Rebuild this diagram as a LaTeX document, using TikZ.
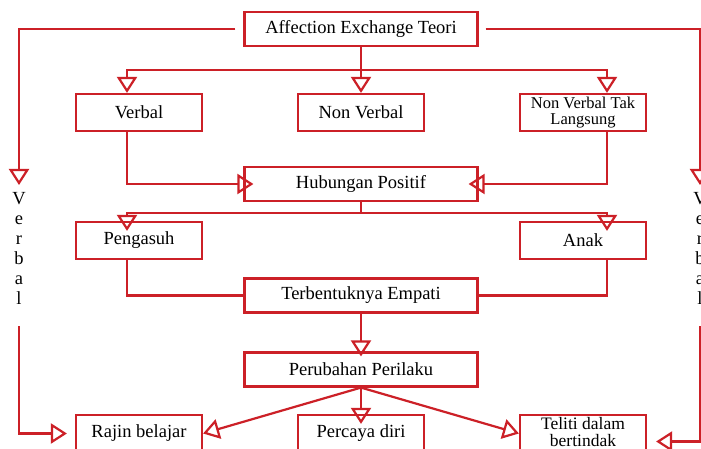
\documentclass[tikz,border=0pt]{standalone}
\usepackage{fontspec}
\setmainfont{Liberation Serif}
\usetikzlibrary{arrows.meta,calc}
\definecolor{lred}{RGB}{204,32,39}
\begin{document}
\begin{tikzpicture}[x=1pt,y=-1pt,
  box/.style={draw=lred,line width=2.2pt,fill=white,inner sep=1pt,align=center,font=\fontsize{18.5}{20}\selectfont,text=black},
  wbox/.style={box,minimum width=233pt,minimum height=34pt},
  sbox/.style={box,minimum width=126pt,minimum height=37pt},
  conn/.style={draw=lred,line width=2.2pt},
  arr/.style={conn,-{Triangle[open,length=16pt,width=20pt]}},
  vtext/.style={font=\fontsize{18.5}{20}\selectfont,align=center,inner sep=0pt,anchor=north,text=black}]
\clip (0,0) rectangle (701,449);
\fill[white] (0,0) rectangle (701,449);
% boxes
\node[wbox] (aet) at (361,29) {Affection Exchange Teori};
\node[sbox] (verb) at (139,112.5) {Verbal};
\node[sbox] (nv) at (361,112.5) {Non Verbal};
\node[sbox,font=\fontsize{16.5}{16}\selectfont] (nvt) at (583,112.5) {Non Verbal Tak\\Langsung};
\node[wbox] (hub) at (361,184) {Hubungan Positif};
\node[sbox] (peng) at (139,240.5) {Pengasuh};
\node[sbox] (anak) at (583,240.5) {Anak};
\node[wbox] (emp) at (361,295.5) {Terbentuknya Empati};
\node[wbox] (per) at (361,369.5) {Perubahan Perilaku};
\node[sbox] (rajin) at (139,433.5) {Rajin belajar};
\node[sbox] (pd) at (361,433.5) {Percaya diri};
\node[sbox,font=\fontsize{17.5}{16.5}\selectfont,text depth=3pt] (tel) at (583,433.5) {Teliti dalam\\bertindak};
% helper coordinates
\coordinate (L) at (127,0);
\coordinate (R) at (607,0);
\coordinate (b1) at (361,70);
\coordinate (b2) at (361,213);
% connectors
\draw[conn] (aet.south) -- (b1);
\draw[arr] (b1) -- (nv.north);
\draw[arr] (b1) -| (verb.north -| L);
\draw[arr] (b1) -| (nvt.north -| R);
\draw[arr,shorten >=-10pt] (verb.south -| L) |- (hub.west);
\draw[arr,shorten >=-10pt] (nvt.south -| R) |- (hub.east);
\draw[conn] (hub.south) -- (b2);
\draw[arr,shorten >=-10pt] (b2) -| (peng.north -| L);
\draw[arr,shorten >=-10pt] (b2) -| (anak.north -| R);
\draw[conn] (peng.south -| L) |- (emp.west);
\draw[conn] (anak.south -| R) |- (emp.east);
\draw[arr,shorten >=-5pt] (emp.south) -- (per.north);
\draw[arr] (per.south) -- (rajin.east);
\draw[arr,shorten >=-10pt] (per.south) -- (pd.north);
\draw[arr] (per.south) -- (tel.west);
% side branches
\coordinate (lv) at (19,185);
\coordinate (lv2) at (19,326);
\coordinate (rv) at (700,185);
\coordinate (rv2) at (700,326);
\draw[arr,shorten <=8pt] (aet.west) -| (lv);
\node[vtext] (lvt) at (19,192) {V\\e\\r\\b\\a\\l};
\draw[arr,shorten >=8pt] (lv2) |- (rajin.west);
\draw[arr,shorten <=7pt] (aet.east) -| (rv);
\node[vtext] (rvt) at (700,192) {V\\e\\r\\b\\a\\l};
\draw[arr,shorten >=9pt] (rv2) |- ([yshift=-8pt]tel.east);
\end{tikzpicture}
\end{document}
